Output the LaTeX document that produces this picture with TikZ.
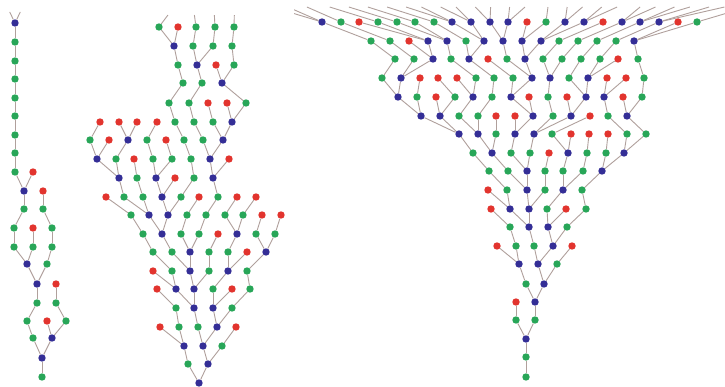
\documentclass[tikz,border=0pt]{standalone}
\definecolor{dotc0}{RGB}{226,52,46}
\definecolor{dotc1}{RGB}{40,166,88}
\definecolor{dotc2}{RGB}{52,46,150}
\definecolor{edgec}{RGB}{176,160,156}
\pgfdeclarelayer{edgelayer}
\pgfsetlayers{edgelayer,main}
\tikzset{
  dot/.style={circle,inner sep=0pt,minimum size=7.4pt,draw=none,fill=dotc#1},
  edge/.style={draw=edgec,line width=0.9pt},
}
\newcommand\noderow[3]{%
  \foreach \xx/\kk [count=\i] in #3 {\node[dot=\kk] (#1-\i) at (\xx,#2) {};}%
}
% in-order linking: each node of the upper row feeds exactly one node below
\newcommand\linkrow[4]{%
  \gdef\myPc{0}%
  \foreach \xx/\kk [count=\i] in #4 {%
    \ifnum\kk>0\relax
      \xdef\myPc{\the\numexpr\myPc+1\relax}%
      \draw[edge] (#1-\myPc) -- (#3-\i);
      \ifnum\kk>1\relax
        \xdef\myPc{\the\numexpr\myPc+1\relax}%
        \draw[edge] (#1-\myPc) -- (#3-\i);
      \fi
    \fi
  }%
}
% links of the top row to virtual parents above the picture
\newcommand\toprow[7]{%
  \gdef\myPc{0}%
  \foreach \xx/\kk [count=\i] in #2 {%
    \ifnum\kk>0\relax
      \xdef\myPc{\the\numexpr\myPc+1\relax}%
      \pgfmathsetmacro\ex{\xx+(#4+(\myPc-1)*#5-\xx)*#7}%
      \pgfmathsetmacro\ey{#3+(#6-#3)*#7}%
      \coordinate (#1-t\myPc) at (\ex,\ey);
      \draw[edge] (#1-\i) -- (#1-t\myPc);
      \ifnum\kk>1\relax
        \xdef\myPc{\the\numexpr\myPc+1\relax}%
        \pgfmathsetmacro\ex{\xx+(#4+(\myPc-1)*#5-\xx)*#7}%
        \coordinate (#1-t\myPc) at (\ex,\ey);
        \draw[edge] (#1-\i) -- (#1-t\myPc);
      \fi
    \fi
  }%
}
% ---------- panel 1
\def\PaA{15/2}
\def\PaB{15/1}
\def\PaC{15/1}
\def\PaD{15/1}
\def\PaE{15/1}
\def\PaF{15/1}
\def\PaG{15/1}
\def\PaH{15/1}
\def\PaI{15/1,33/0}
\def\PaJ{24/2,43/0}
\def\PaK{24/1,43/1}
\def\PaL{14/1,33/0,52/1}
\def\PaM{14/1,33/1,52/1}
\def\PaN{27/2,47/1}
\def\PaO{37/2,56/0}
\def\PaP{37/1,56/1}
\def\PaQ{27/1,47/0,66/1}
\def\PaR{33/1,52/2}
\def\PaS{42/2}
\def\PaT{42/1}
% ---------- panel 2
\def\PbA{159/1,178/0,196/1,215/1,234/1}
\def\PbB{174/2,193/1,213/1,232/1}
\def\PbC{178/1,197/2,216/0,234/1}
\def\PbD{183/1,202/1,222/2}
\def\PbE{169/1,189/1,208/0,227/0,246/1}
\def\PbF{100/0,119/0,137/0,157/0,175/1,194/1,213/1,232/2}
\def\PbG{90/1,109/0,128/2,147/1,166/0,184/1,203/1,223/2}
\def\PbH{97/2,116/1,134/0,153/1,172/1,191/1,210/2,229/0}
\def\PbI{119/2,137/1,156/2,175/0,194/1,213/2}
\def\PbJ{106/0,124/1,143/1,162/2,181/1,199/0,218/1,237/0,256/0}
\def\PbK{131/1,149/2,168/2,187/1,206/1,225/1,243/1,262/0,281/0}
\def\PbL{143/1,162/2,181/1,199/1,218/0,237/2,256/1,275/1}
\def\PbM{153/1,172/1,190/2,209/1,228/1,247/0,266/2}
\def\PbN{153/0,172/1,190/2,209/1,228/2,247/1}
\def\PbO{157/0,176/2,194/2,213/1,232/0,250/1}
\def\PbP{176/1,194/2,213/2,232/1}
\def\PbQ{160/0,179/1,198/1,217/2,236/0}
\def\PbR{184/2,203/2,222/1}
\def\PbS{188/1,208/2}
\def\PbT{199/2}
% ---------- panel 3
\def\PcA{322/2,341/1,359/0,378/1,397/1,415/1,434/1,452/2,471/2,490/2,508/2,527/0,546/1,565/2,584/2,603/0,622/2,640/2,659/2,678/0,697/1}
\def\PcB{371/1,390/1,409/0,428/2,447/2,466/1,484/2,503/2,522/2,541/2,559/1,578/1,597/1,616/1,634/2}
\def\PcC{395/1,414/1,433/2,451/1,469/2,488/0,507/1,525/2,543/1,562/1,581/1,600/1,618/0,638/1}
\def\PcD{382/1,401/2,420/0,438/0,457/0,476/1,494/1,513/1,532/2,550/2,569/1,588/2,607/0,626/0,644/1}
\def\PcE{398/2,417/1,436/0,455/1,473/2,492/1,511/2,529/0,548/1,567/0,586/2,604/2,623/0,642/1}
\def\PcF{421/2,440/2,459/1,478/1,496/0,515/0,533/2,553/1,571/2,590/0,608/1,627/2}
\def\PcG{459/2,478/2,496/1,515/2,534/2,552/1,571/0,589/0,608/0,627/1,646/1}
\def\PcH{473/1,492/2,511/1,530/1,549/0,568/2,587/1,606/1,624/2}
\def\PcI{489/1,508/1,527/2,545/1,563/1,583/1,602/2}
\def\PcJ{488/0,507/1,527/2,545/1,563/2,582/1}
\def\PcK{491/0,510/2,529/2,547/1,566/0,586/1}
\def\PcL{510/1,529/2,548/2,567/1}
\def\PcM{497/0,516/1,534/1,553/2,572/0}
\def\PcN{519/2,538/2,557/1}
\def\PcO{526/1,544/2}
\def\PcP{516/0,535/2}
\def\PcQ{516/1,535/1}
\def\PcR{526/2}
\def\PcS{526/1}
\def\PcT{526/1}
\begin{document}
\begin{tikzpicture}[x=1pt,y=-1pt]
\useasboundingbox (0,0) rectangle (725,387);
% ---- dots
\noderow{a1}{23}{\PaA}\noderow{a2}{42}{\PaB}\noderow{a3}{61}{\PaC}\noderow{a4}{79}{\PaD}
\noderow{a5}{98}{\PaE}\noderow{a6}{116}{\PaF}\noderow{a7}{135}{\PaG}\noderow{a8}{153}{\PaH}
\noderow{a9}{172}{\PaI}\noderow{a10}{191}{\PaJ}\noderow{a11}{209}{\PaK}\noderow{a12}{228}{\PaL}
\noderow{a13}{247}{\PaM}\noderow{a14}{264}{\PaN}\noderow{a15}{284}{\PaO}\noderow{a16}{303}{\PaP}
\noderow{a17}{321}{\PaQ}\noderow{a18}{338}{\PaR}\noderow{a19}{358}{\PaS}\noderow{a20}{377}{\PaT}
\noderow{b1}{27}{\PbA}\noderow{b2}{46}{\PbB}\noderow{b3}{65}{\PbC}\noderow{b4}{83}{\PbD}
\noderow{b5}{103}{\PbE}\noderow{b6}{122}{\PbF}\noderow{b7}{140}{\PbG}\noderow{b8}{159}{\PbH}
\noderow{b9}{178}{\PbI}\noderow{b10}{197}{\PbJ}\noderow{b11}{215}{\PbK}\noderow{b12}{234}{\PbL}
\noderow{b13}{252}{\PbM}\noderow{b14}{271}{\PbN}\noderow{b15}{289}{\PbO}\noderow{b16}{308}{\PbP}
\noderow{b17}{327}{\PbQ}\noderow{b18}{346}{\PbR}\noderow{b19}{364}{\PbS}\noderow{b20}{383}{\PbT}
\noderow{c1}{22}{\PcA}\noderow{c2}{41}{\PcB}\noderow{c3}{59}{\PcC}\noderow{c4}{78}{\PcD}
\noderow{c5}{97}{\PcE}\noderow{c6}{116}{\PcF}\noderow{c7}{134}{\PcG}\noderow{c8}{153}{\PcH}
\noderow{c9}{171}{\PcI}\noderow{c10}{190}{\PcJ}\noderow{c11}{209}{\PcK}\noderow{c12}{227}{\PcL}
\noderow{c13}{246}{\PcM}\noderow{c14}{264}{\PcN}\noderow{c15}{284}{\PcO}\noderow{c16}{302}{\PcP}
\noderow{c17}{320}{\PcQ}\noderow{c18}{339}{\PcR}\noderow{c19}{357}{\PcS}\noderow{c20}{377}{\PcT}
% ---- connectors, under the dots
\begin{pgfonlayer}{edgelayer}
\fill[white] (0,0) rectangle (725,387);
\toprow{a1}{\PaA}{23}{6}{18}{4.3}{0.59}
\linkrow{a1}{\PaA}{a2}{\PaB}\linkrow{a2}{\PaB}{a3}{\PaC}\linkrow{a3}{\PaC}{a4}{\PaD}
\linkrow{a4}{\PaD}{a5}{\PaE}\linkrow{a5}{\PaE}{a6}{\PaF}\linkrow{a6}{\PaF}{a7}{\PaG}
\linkrow{a7}{\PaG}{a8}{\PaH}\linkrow{a8}{\PaH}{a9}{\PaI}\linkrow{a9}{\PaI}{a10}{\PaJ}
\linkrow{a10}{\PaJ}{a11}{\PaK}\linkrow{a11}{\PaK}{a12}{\PaL}\linkrow{a12}{\PaL}{a13}{\PaM}
\linkrow{a13}{\PaM}{a14}{\PaN}\linkrow{a14}{\PaN}{a15}{\PaO}\linkrow{a15}{\PaO}{a16}{\PaP}
\linkrow{a16}{\PaP}{a17}{\PaQ}\linkrow{a17}{\PaQ}{a18}{\PaR}\linkrow{a18}{\PaR}{a19}{\PaS}
\linkrow{a19}{\PaS}{a20}{\PaT}
\toprow{b1}{\PbA}{27}{173}{20.5}{8.3}{0.64}
\linkrow{b1}{\PbA}{b2}{\PbB}\linkrow{b2}{\PbB}{b3}{\PbC}\linkrow{b3}{\PbC}{b4}{\PbD}
\linkrow{b4}{\PbD}{b5}{\PbE}\linkrow{b5}{\PbE}{b6}{\PbF}\linkrow{b6}{\PbF}{b7}{\PbG}
\linkrow{b7}{\PbG}{b8}{\PbH}\linkrow{b8}{\PbH}{b9}{\PbI}\linkrow{b9}{\PbI}{b10}{\PbJ}
\linkrow{b10}{\PbJ}{b11}{\PbK}\linkrow{b11}{\PbK}{b12}{\PbL}\linkrow{b12}{\PbL}{b13}{\PbM}
\linkrow{b13}{\PbM}{b14}{\PbN}\linkrow{b14}{\PbN}{b15}{\PbO}\linkrow{b15}{\PbO}{b16}{\PbP}
\linkrow{b16}{\PbP}{b17}{\PbQ}\linkrow{b17}{\PbQ}{b18}{\PbR}\linkrow{b18}{\PbR}{b19}{\PbS}
\linkrow{b19}{\PbS}{b20}{\PbT}
\begin{scope}
\clip (294,5) rectangle (725,387);
\toprow{c1}{\PcA}{22}{260}{19.23}{3.3}{0.8}
\end{scope}
\linkrow{c1}{\PcA}{c2}{\PcB}\linkrow{c2}{\PcB}{c3}{\PcC}\linkrow{c3}{\PcC}{c4}{\PcD}
\linkrow{c4}{\PcD}{c5}{\PcE}\linkrow{c5}{\PcE}{c6}{\PcF}\linkrow{c6}{\PcF}{c7}{\PcG}
\linkrow{c7}{\PcG}{c8}{\PcH}\linkrow{c8}{\PcH}{c9}{\PcI}\linkrow{c9}{\PcI}{c10}{\PcJ}
\linkrow{c10}{\PcJ}{c11}{\PcK}\linkrow{c11}{\PcK}{c12}{\PcL}\linkrow{c12}{\PcL}{c13}{\PcM}
\linkrow{c13}{\PcM}{c14}{\PcN}\linkrow{c14}{\PcN}{c15}{\PcO}\linkrow{c15}{\PcO}{c16}{\PcP}
\linkrow{c16}{\PcP}{c17}{\PcQ}\linkrow{c17}{\PcQ}{c18}{\PcR}\linkrow{c18}{\PcR}{c19}{\PcS}
\linkrow{c19}{\PcS}{c20}{\PcT}
\end{pgfonlayer}
\end{tikzpicture}
\end{document}
